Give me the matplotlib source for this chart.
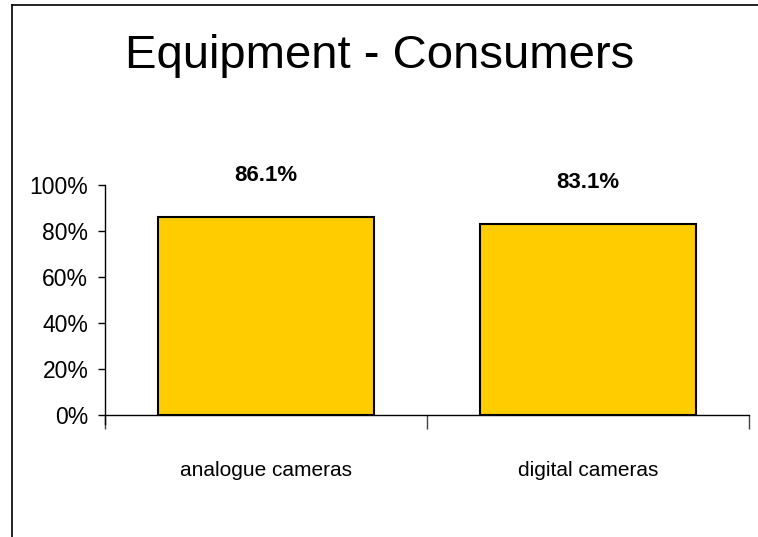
import matplotlib
matplotlib.use("Agg")
import matplotlib.pyplot as plt
from matplotlib.lines import Line2D
from matplotlib.ticker import PercentFormatter

categories = ["analogue cameras", "digital cameras"]
shares = [86.1, 83.1]
yticks = [0, 20, 40, 60, 80, 100]

narrow = ["Liberation Sans Narrow", "Liberation Sans", "DejaVu Sans"]

fig = plt.figure(figsize=(7.58, 5.37), dpi=100)
ax = fig.add_axes([105 / 758, 1 - 415 / 537, 644 / 758, 230 / 537])

x = list(range(len(categories)))
ax.bar(x, shares, width=0.67, color="#FFCC00", edgecolor="black", linewidth=1.5)

for xi, v in zip(x, shares):
    ax.text(xi, v + 18, f"{v:.1f}%", ha="center", va="center",
            fontsize=16, fontweight="bold", family=narrow)

ax.set_xlim(-0.5, 1.5)
ax.set_ylim(0, 100)
ax.set_yticks(yticks)
ax.yaxis.set_major_formatter(PercentFormatter(decimals=0))
for lab in ax.get_yticklabels():
    lab.set_family(narrow)
    lab.set_fontsize(16.5)

# category separators as ticks on the x axis
ax.set_xticks([-0.5, 0.5, 1.5])
ax.set_xticklabels([])
ax.tick_params(axis="x", direction="out", length=10, width=1, color="#444444")
ax.tick_params(axis="y", direction="out", length=5, width=1, pad=7)
for xi, name in zip(x, categories):
    ax.text(xi, -0.24, name, transform=ax.get_xaxis_transform(), ha="center",
            va="center", fontsize=15, family=narrow)

ax.spines["top"].set_visible(False)
ax.spines["right"].set_visible(False)
ax.spines["left"].set_bounds(-4, 100)
ax.spines["left"].set_linewidth(1)
ax.spines["bottom"].set_linewidth(1)

fig.text(380 / 758, 1 - 56 / 537, "Equipment - Consumers", ha="center",
         va="center", fontsize=34, family=["Liberation Sans", "DejaVu Sans"])

# outer chart frame (left and top edges)
fig.add_artist(Line2D([12 / 758, 12 / 758], [0, 1 - 5 / 537], color="black", lw=1.2))
fig.add_artist(Line2D([12 / 758, 1], [1 - 5 / 537, 1 - 5 / 537], color="black", lw=1.2))

fig.savefig("out.png", dpi=100)
